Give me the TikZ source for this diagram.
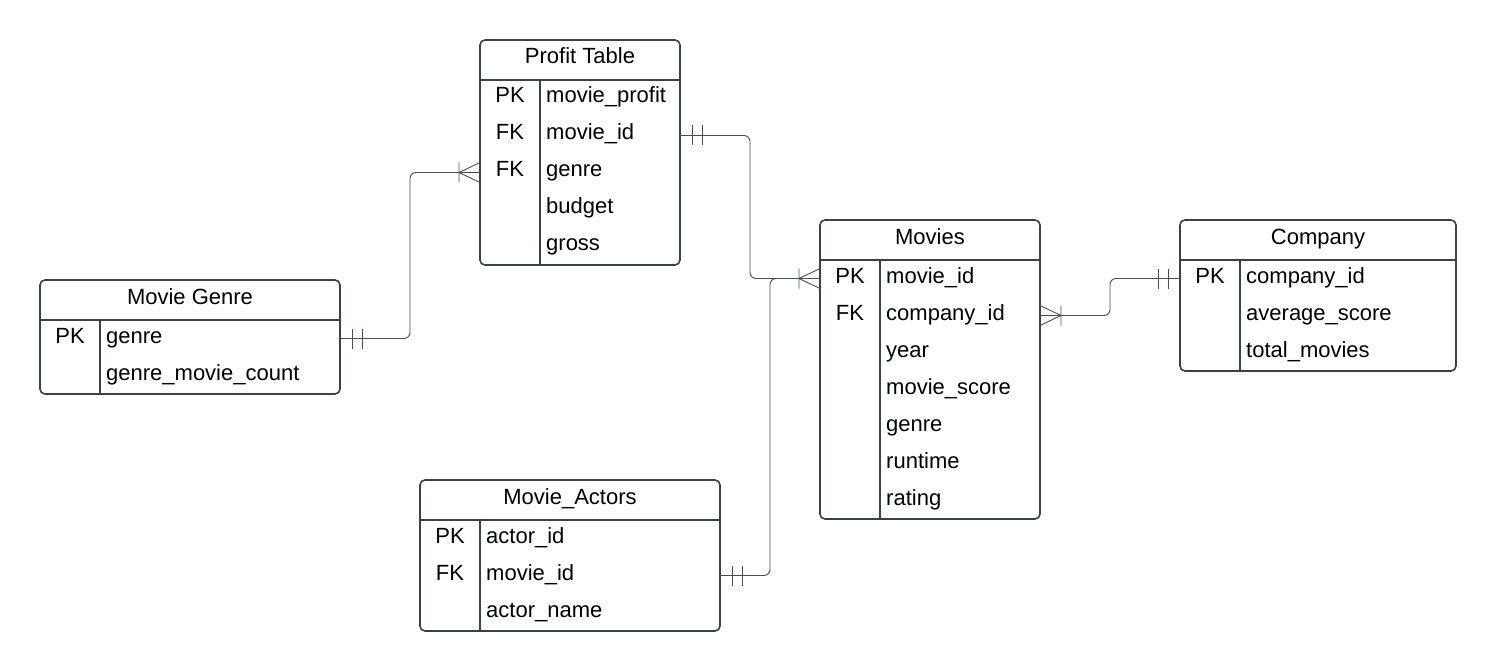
\documentclass[tikz,border=0pt]{standalone}
\usepackage{fontspec}
\setmainfont{Liberation Sans}
\definecolor{tabline}{HTML}{3B4049}
\definecolor{conncol}{HTML}{4A4F57}
\tikzset{
  tablebox/.style={draw=tabline, line width=1.6pt, rounded corners=5pt, inner sep=0pt, outer sep=0pt},
  tableline/.style={draw=tabline, line width=1.6pt},
  conn/.style={draw=conncol, line width=0.9pt},
  erfont/.style={font=\fontsize{22}{26}\selectfont, inner sep=0pt, text=black}
}
\newcommand\ertable[8]{%
  % #1 name, #2 x0, #3 y0, #4 x1, #5 y1, #6 divider x, #7 title, #8 rows
  \node[tablebox, anchor=north west, minimum width={(#4-#2)*1pt}, minimum height={(#5-#3)*1pt}] (#1) at (#2,#3) {};
  \draw[tableline] (#2,{#3+40}) -- (#4,{#3+40});
  \draw[tableline] (#6,{#3+40}) -- (#6,#5);
  \node[erfont, anchor=base] (#1-title) at ({(#2+#4)/2},{#3+24}) {#7};
  \foreach \k/\f [count=\i] in {#8} {
    \node[erfont, anchor=base] (#1-k\i) at ({(#2+#6)/2},{#3+40+37*(\i-1)+23}) {\k};
    \node[erfont, anchor=base west] (#1-f\i) at ({#6+6},{#3+40+37*(\i-1)+23}) {\f};
    \coordinate (#1-w\i) at (#2,{#3+40+37*\i-18.5});
    \coordinate (#1-e\i) at (#4,{#3+40+37*\i-18.5});
  }%
}
\newcommand\crowW[1]{\draw[conn] (#1) ++(-21,0) -- ++(21,-10) (#1) ++(-21,0) -- ++(21,10) (#1) ++(-21,-10) -- ++(0,20);}
\newcommand\crowE[1]{\draw[conn] (#1) ++(21,0) -- ++(-21,-10) (#1) ++(21,0) -- ++(-21,10) (#1) ++(21,-10) -- ++(0,20);}
\newcommand\barsE[1]{\draw[conn] (#1) ++(12,-10) -- ++(0,20) (#1) ++(22,-10) -- ++(0,20);}
\newcommand\barsW[1]{\draw[conn] (#1) ++(-12,-10) -- ++(0,20) (#1) ++(-22,-10) -- ++(0,20);}
\begin{document}
\begin{tikzpicture}[x=1pt, y=-1pt]
\useasboundingbox[fill=white] (0,0) rectangle (1496,671);

\ertable{pt}{480}{40}{680}{265}{540}{Profit Table}{PK/movie\_profit, FK/movie\_id, FK/genre, /budget, /gross}
\ertable{mg}{40}{280}{340}{394}{100}{Movie Genre}{PK/genre, /genre\_movie\_count}
\ertable{mv}{820}{220}{1040}{519}{880}{Movies}{PK/movie\_id, FK/company\_id, /year, /movie\_score, /genre, /runtime, /rating}
\ertable{co}{1180}{220}{1456}{371}{1240}{Company}{PK/company\_id, /average\_score, /total\_movies}
\ertable{ma}{420}{480}{720}{631}{480}{Movie\_Actors}{PK/actor\_id, FK/movie\_id, /actor\_name}

% connectors
\draw[conn, rounded corners=6pt] (mg-e1) -- ++(70,0) |- (pt-w3);
\barsE{mg-e1}
\crowW{pt-w3}

\draw[conn, rounded corners=6pt] (pt-e2) -- ++(70,0) |- (mv-w1);
\barsE{pt-e2}
\crowW{mv-w1}

\draw[conn, rounded corners=6pt] (ma-e2) -- ++(50,0) |- (mv-w1);
\barsE{ma-e2}

\draw[conn, rounded corners=6pt] (mv-e2) -- ++(70,0) |- (co-w1);
\crowE{mv-e2}
\barsW{co-w1}
\end{tikzpicture}
\end{document}
